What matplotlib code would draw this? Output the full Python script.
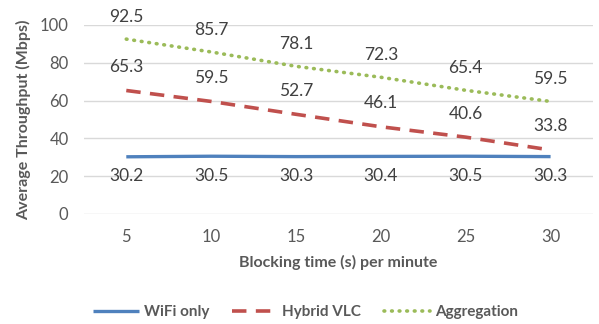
import matplotlib.pyplot as plt

blocking = [5, 10, 15, 20, 25, 30]
wifi_only = [30.2, 30.5, 30.3, 30.4, 30.5, 30.3]
hybrid_vlc = [65.3, 59.5, 52.7, 46.1, 40.6, 33.8]
aggregation = [92.5, 85.7, 78.1, 72.3, 65.4, 59.5]

plt.rcParams['font.family'] = ['Lato', 'DejaVu Sans']

fig = plt.figure(figsize=(5.99, 3.24), dpi=100)
ax = fig.add_axes([0.14, 0.34, 0.85, 0.583])

x = list(range(len(blocking)))
ax.plot(x, wifi_only, color='#4F81BD', lw=2.4, solid_capstyle='butt', label='WiFi only')
ax.plot(x, hybrid_vlc, color='#C0504D', lw=2.6, ls=(0, (4, 2.6)), label='Hybrid VLC')
ax.plot(x, aggregation, color='#9BBB59', lw=2.6, ls=(0, (0.2, 1.9)), dash_capstyle='round',
        label='Aggregation')

lab_kw = dict(textcoords='offset points', ha='center', va='center', fontsize=12.5, color='#404040')
for i in x:
    ax.annotate(f'{aggregation[i]:.1f}', (i, aggregation[i]), xytext=(0, 16), **lab_kw)
    ax.annotate(f'{hybrid_vlc[i]:.1f}', (i, hybrid_vlc[i]), xytext=(0, 17), **lab_kw)
    ax.annotate(f'{wifi_only[i]:.1f}', (i, wifi_only[i]), xytext=(0, -14), **lab_kw)

ax.set_xlim(-0.5, len(blocking) - 0.5)
ax.set_ylim(0, 100)
ax.set_yticks(range(0, 101, 20))
ax.set_xticks(x)
ax.set_xticklabels([str(b) for b in blocking])
ax.tick_params(length=0, labelsize=12, labelcolor='#595959')
ax.tick_params(axis='x', pad=11)
ax.tick_params(axis='y', pad=11)
ax.grid(axis='y', color='#D9D9D9', lw=1)
ax.set_axisbelow(True)
for s in ax.spines.values():
    s.set_visible(False)

ax.set_xlabel('Blocking time (s) per minute', fontsize=11.5, fontweight='bold', color='#595959',
              labelpad=7)
ax.set_ylabel('Average Throughput (Mbps)', fontsize=11.5, fontweight='bold', color='#595959',
              labelpad=6)

leg = fig.legend(loc='center', bbox_to_anchor=(0.51, 0.037), ncol=3, frameon=False,
                 fontsize=11, handlelength=3.0, handletextpad=0.3, columnspacing=1.5)
for t in leg.get_texts():
    t.set_color('#595959')
    t.set_fontweight('bold')

fig.savefig('out.png', dpi=100)
